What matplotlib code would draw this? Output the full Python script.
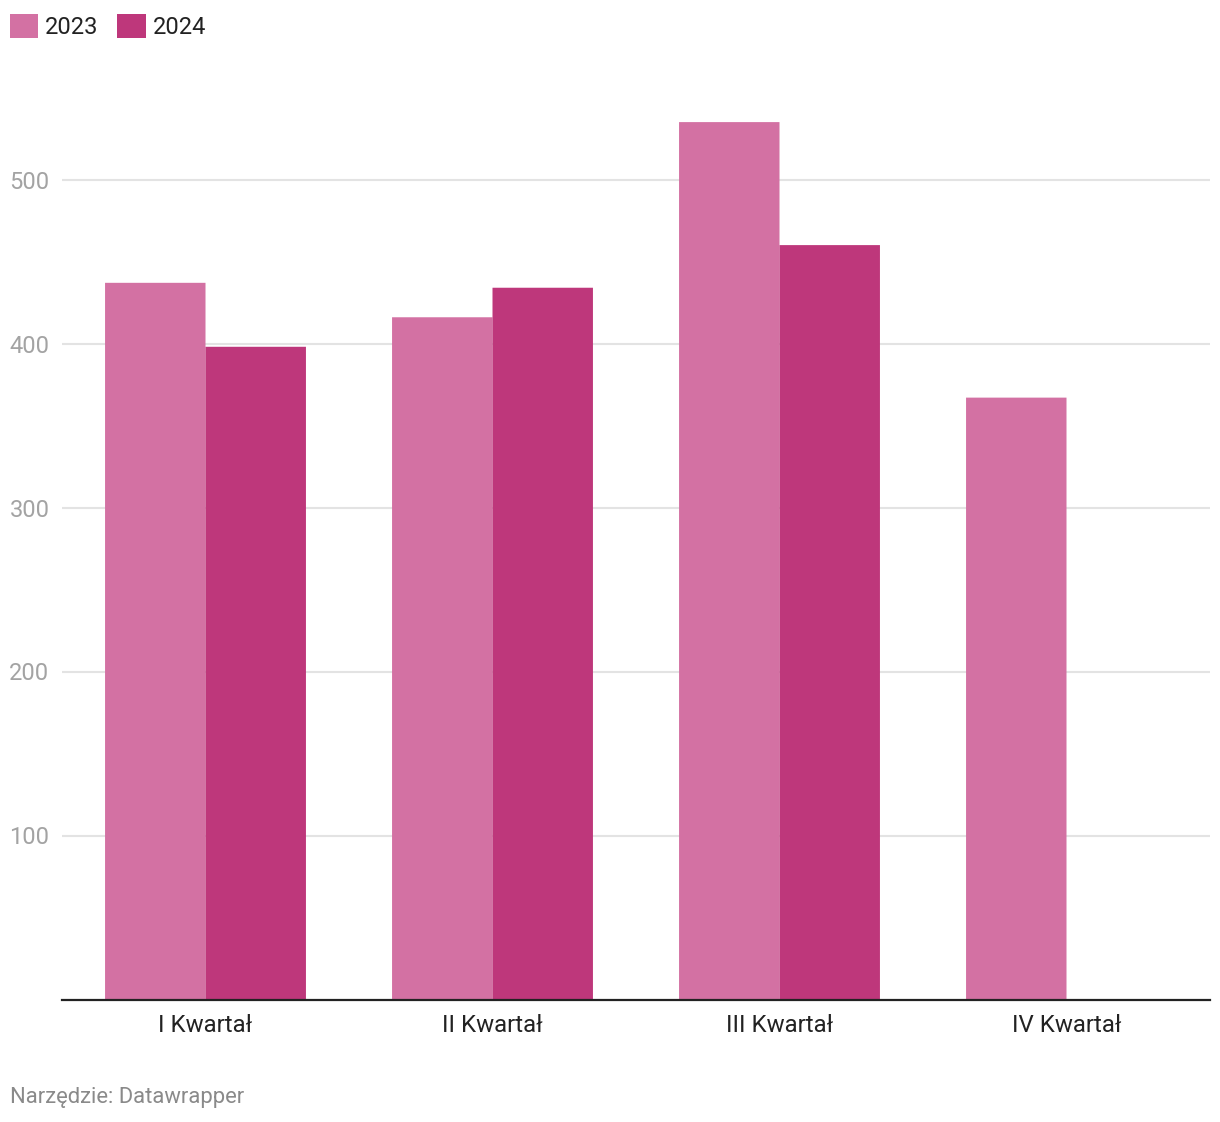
import numpy as np
import matplotlib.pyplot as plt

plt.rcParams['font.family'] = ['Roboto', 'DejaVu Sans']

categories = ["I Kwartał", "II Kwartał", "III Kwartał", "IV Kwartał"]
years = ["2023", "2024"]
values_2023 = [437, 416, 535, 367]
values_2024 = [398, 434, 460, np.nan]
yticks = [100, 200, 300, 400, 500]

C2023 = "#d371a3"
C2024 = "#be377b"

W, H = 1220, 1122
fig = plt.figure(figsize=(W / 100, H / 100), dpi=100)
ax = fig.add_axes([62 / W, 122.5 / H, (1210 - 62) / W, (999.5 - 100) / H])

x = np.arange(len(categories))
bw = 0.35
b1 = ax.bar(x - bw / 2, values_2023, bw, color=C2023, label=years[0], zorder=2,
            linewidth=0, snap=False)
b2 = ax.bar(x + bw / 2, values_2024, bw, color=C2024, label=years[1], zorder=2,
            linewidth=0, snap=False)

ax.set_xlim(-0.5, len(categories) - 0.5)
ax.set_ylim(0, (999.5 - 100) / 1.64)

ax.set_yticks(yticks)
ax.set_yticklabels([str(v) for v in yticks], color="#a3a3a3", fontsize=17)
ax.tick_params(axis="y", length=0, pad=9)
ax.grid(axis="y", color="#e3e3e3", linewidth=1.5, zorder=0)

ax.set_xticks(x)
ax.set_xticklabels(categories, color="#222222", fontsize=17.3)
ax.tick_params(axis="x", length=0, pad=10.5)

for s in ["top", "right", "left"]:
    ax.spines[s].set_visible(False)
ax.spines["bottom"].set_color("#222222")
ax.spines["bottom"].set_linewidth(1.6)
ax.spines["bottom"].set_zorder(3)

fig.legend(handles=[b1, b2], loc="upper left", bbox_to_anchor=(10 / W, 1 - 14 / H),
           ncol=2, frameon=False, fontsize=17, handlelength=1.19, handleheight=1.19,
           handletextpad=0.3, columnspacing=0.8, borderpad=0, borderaxespad=0,
           labelcolor="#222222")

fig.text(10 / W, 1 - 1097 / H, "Narzędzie: Datawrapper", color="#8a8a8a",
         fontsize=15.8, va="center", ha="left")

fig.savefig("out.png", dpi=100)
